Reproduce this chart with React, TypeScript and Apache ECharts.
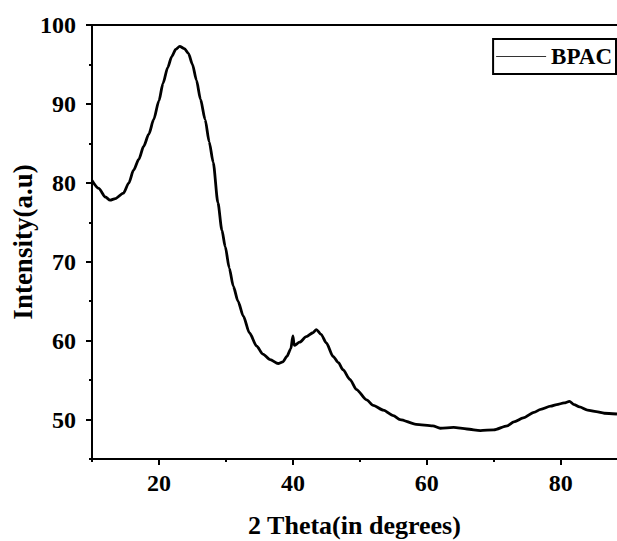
import React, { useEffect, useRef } from "react";
import * as echarts from "echarts";

const thetaDeg = [
  10, 11, 12, 12.7, 13.5, 14.7, 15.5, 16.2, 17, 17.7, 18.5, 19.2, 20, 20.6, 21.3, 21.9, 22.5, 23.1,
  23.8, 24.4, 25, 25.6, 26.2, 26.9, 27.5, 28.1, 28.8, 29.4, 29.9, 30.5, 31.1, 31.8, 32.6, 33.5,
  34.6, 35.5, 36.6, 37.8, 38.5, 39.1, 39.7, 40.0, 40.2, 41.0, 42.0, 43.0, 43.5, 44.2, 45.0, 46.0,
  46.8, 47.5, 48.5, 49.5, 51.0, 52.0, 53.5, 55.0, 56.0, 58.4, 60.9, 62, 64, 66, 68, 70, 72, 73,
  74.4, 76, 77, 78.5, 79.4, 80.5, 81.3, 82.0, 82.8, 84, 85.3, 86.5, 88.4,
];
const intensity = [
  80.3, 79.3, 78.2, 77.8, 78.0, 78.7, 80.0, 81.6, 83.0, 84.6, 86.2, 88.0, 90.4, 92.6, 94.6, 96.0, 96.9, 97.3,
  97.0, 96.4, 95.0, 93.0, 90.6, 88.0, 85.2, 82.6, 77.5, 74.0, 71.9, 69.2, 66.9, 65.0, 63.1, 61.0,
  59.3, 58.3, 57.6, 57.1, 57.3, 58.0, 59.0, 60.6, 59.4, 59.8, 60.5, 61.0, 61.4, 60.8, 59.7, 58.0,
  57.2, 56.3, 55.1, 53.8, 52.5, 51.8, 51.2, 50.5, 50.0, 49.4, 49.2, 48.9, 49.0, 48.8, 48.6, 48.7, 49.2, 49.7,
  50.2, 50.9, 51.3, 51.7, 51.9, 52.1, 52.3, 51.9, 51.6, 51.2, 51.0, 50.8, 50.7,
];
const xMajorTicks = [20, 40, 60, 80];
const xMinorTicks = [10, 30, 50, 70];
const yMajorTicks = [50, 60, 70, 80, 90, 100];
const yMinorTicks = [45, 55, 65, 75, 85, 95];

const FONT = "'Liberation Serif', 'Times New Roman', serif";

export default function App() {
  const ref = useRef<HTMLDivElement>(null);
  useEffect(() => {
    if (!ref.current) return;
    const chart = echarts.init(ref.current, null, { renderer: "svg" });
    const data = thetaDeg.map((x, i) => [x, intensity[i]]);
    const labelStyle = {
      fontFamily: FONT,
      fontWeight: "bold" as const,
      fontSize: 24,
      color: "#000",
    };
    chart.setOption({
      animation: false,
      backgroundColor: "#fff",
      grid: { left: 92, top: 25, right: 0, bottom: 82, containLabel: false, outerBoundsMode: "none" },
      legend: {
        right: 1,
        top: 39,
        icon: "rect",
        itemWidth: 50,
        itemHeight: 1,
        itemGap: 0,
        padding: [6, 4, 6, 3],
        borderColor: "#000",
        borderWidth: 2,
        textStyle: { ...labelStyle, fontSize: 23 },
        data: ["BPAC"],
      },
      xAxis: [
        {
          type: "value",
          min: 10,
          max: 88.4,
          position: "bottom",
          name: "2 Theta(in degrees)",
          nameLocation: "middle",
          nameGap: 53,
          nameMoveOverlap: false,
          nameTextStyle: { ...labelStyle, fontSize: 26 },
          axisLine: { show: true, onZero: false, lineStyle: { color: "#000", width: 2 } },
          axisTick: { show: true, inside: false, length: 6, customValues: xMajorTicks, lineStyle: { color: "#000", width: 2 } },
          axisLabel: { ...labelStyle, margin: 12, customValues: xMajorTicks },
          splitLine: { show: false },
        },
        {
          type: "value",
          min: 10,
          max: 88.4,
          position: "bottom",
          axisLine: { show: false },
          axisTick: { show: true, inside: false, length: 3, customValues: xMinorTicks, lineStyle: { color: "#000", width: 2 } },
          axisLabel: { show: false },
          splitLine: { show: false },
        },
        {
          type: "value",
          min: 10,
          max: 88.4,
          position: "top",
          axisLine: { show: true, onZero: false, lineStyle: { color: "#000", width: 2 } },
          axisTick: { show: false },
          axisLabel: { show: false },
          splitLine: { show: false },
        },
      ],
      yAxis: [
        {
          type: "value",
          min: 45,
          max: 100,
          position: "left",
          name: "Intensity(a.u)",
          nameLocation: "middle",
          nameGap: 56,
          nameMoveOverlap: false,
          nameTextStyle: { ...labelStyle, fontSize: 27 },
          axisLine: { show: true, onZero: false, lineStyle: { color: "#000", width: 2 } },
          axisTick: { show: true, inside: false, length: 6, customValues: yMajorTicks, lineStyle: { color: "#000", width: 2 } },
          axisLabel: { ...labelStyle, margin: 16, customValues: yMajorTicks },
          splitLine: { show: false },
        },
        {
          type: "value",
          min: 45,
          max: 100,
          position: "left",
          axisLine: { show: false },
          axisTick: { show: true, inside: false, length: 3, customValues: yMinorTicks, lineStyle: { color: "#000", width: 2 } },
          axisLabel: { show: false },
          splitLine: { show: false },
        },
      ],
      series: [
        {
          name: "BPAC",
          type: "line",
          xAxisIndex: 0,
          yAxisIndex: 0,
          data,
          showSymbol: false,
          symbol: "none",
          smooth: 0.25,
          smoothMonotone: "x",
          lineStyle: { color: "#000", width: 2.8 },
          itemStyle: { color: "#333" },
        },
      ],
    });
    return () => chart.dispose();
  }, []);
  return <div ref={ref} style={{ width: 617, height: 541, position: "absolute", left: 0, top: 0 }} />;
}
